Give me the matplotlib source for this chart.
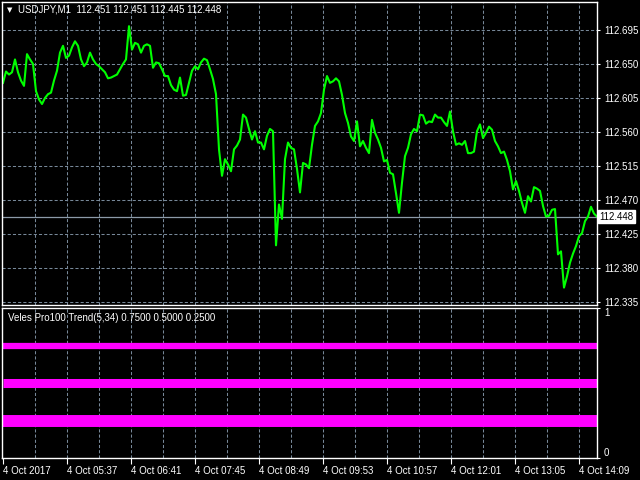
import numpy as np
import matplotlib.pyplot as plt

plt.rcParams['font.family'] = ['Liberation Sans', 'DejaVu Sans']

# USDJPY M1 closes, read every 3 bars from the picture
prices = [
    112.625, 112.640, 112.636, 112.639, 112.656, 112.639, 112.628, 112.621, 112.663, 112.656,
    112.650, 112.614, 112.603, 112.597, 112.605, 112.610, 112.612, 112.628, 112.641, 112.665,
    112.674, 112.658, 112.661, 112.672, 112.680, 112.674, 112.656, 112.647, 112.652, 112.665,
    112.656, 112.650, 112.647, 112.643, 112.639, 112.631, 112.632, 112.634, 112.636, 112.643,
    112.650, 112.656, 112.700, 112.669, 112.678, 112.676, 112.665, 112.674, 112.676, 112.674,
    112.645, 112.652, 112.651, 112.643, 112.634, 112.634, 112.622, 112.616, 112.614, 112.632,
    112.608, 112.609, 112.625, 112.641, 112.647, 112.643, 112.652, 112.657, 112.655, 112.643,
    112.630, 112.610, 112.537, 112.502, 112.524, 112.517, 112.508, 112.537, 112.542, 112.550,
    112.583, 112.579, 112.564, 112.550, 112.561, 112.546, 112.546, 112.537, 112.555, 112.564,
    112.561, 112.410, 112.464, 112.445, 112.524, 112.546, 112.539, 112.537, 112.511, 112.480,
    112.519, 112.517, 112.512, 112.543, 112.568, 112.574, 112.585, 112.616, 112.634, 112.625,
    112.627, 112.631, 112.627, 112.609, 112.585, 112.572, 112.554, 112.548, 112.574, 112.541,
    112.548, 112.539, 112.532, 112.576, 112.559, 112.550, 112.539, 112.521, 112.523, 112.506,
    112.504, 112.479, 112.453, 112.493, 112.528, 112.539, 112.557, 112.564, 112.561, 112.583,
    112.582, 112.571, 112.574, 112.573, 112.583, 112.579, 112.579, 112.573, 112.568, 112.587,
    112.561, 112.543, 112.545, 112.543, 112.548, 112.532, 112.532, 112.534, 112.561, 112.570,
    112.552, 112.559, 112.567, 112.563, 112.548, 112.541, 112.532, 112.534, 112.523, 112.508,
    112.484, 112.495, 112.482, 112.466, 112.453, 112.475, 112.468, 112.487, 112.485, 112.482,
    112.462, 112.448, 112.449, 112.457, 112.458, 112.398, 112.402, 112.354, 112.369, 112.387,
    112.399, 112.409, 112.422, 112.426, 112.442, 112.448, 112.461, 112.452, 112.448,
]
minutes = np.arange(len(prices)) * 3  # bar index (minutes since first bar)

price_ticks = [112.335, 112.380, 112.425, 112.470, 112.515, 112.560, 112.605, 112.650, 112.695]
time_labels = ["4 Oct 2017", "4 Oct 05:37", "4 Oct 06:41", "4 Oct 07:45", "4 Oct 08:49",
               "4 Oct 09:53", "4 Oct 10:57", "4 Oct 12:01", "4 Oct 13:05", "4 Oct 14:09"]
time_ticks = np.arange(len(time_labels)) * 64
grid_x = np.arange(32, 595, 32)
header = "USDJPY,M1  112.451 112.451 112.445 112.448"
last_price = 112.448
indicator_name = "Veles Pro100 Trend(5,34) 0.7500 0.5000 0.2500"
trend_levels = [0.75, 0.5, 0.25]

grid_col = '#778899'
grid_ls = (0, (3, 2))
fig = plt.figure(figsize=(6.4, 4.8), dpi=100, facecolor='black')
ax = fig.add_axes([2/640, 1 - 305/480, 595/640, 303/480], facecolor='black')
ax2 = fig.add_axes([2/640, 1 - 458/480, 595/640, 150/480], facecolor='black')

for a in (ax, ax2):
    for s in a.spines.values():
        s.set_color('white')
        s.set_linewidth(1)
    a.set_xlim(-1, 594)
    for gx in grid_x:
        a.axvline(gx, color=grid_col, lw=0.75, ls=grid_ls, zorder=0)

# main pane
for py in price_ticks:
    ax.axhline(py, color=grid_col, lw=0.75, ls=grid_ls, zorder=0)
ax.axhline(last_price, color='#8c9aa8', lw=0.9, zorder=1)
ax.plot(minutes, prices, color='#00ff00', lw=1.5, zorder=2)
ax.set_ylim(112.331, 112.732)
ax.set_xticks([])
ax.yaxis.tick_right()
ax.set_yticks(price_ticks)
ax.set_yticklabels([f"{p:.3f}" for p in price_ticks])
ax.tick_params(axis='y', colors='white', labelcolor='white', labelsize=7, length=2, pad=3)
ax.text(1.004, last_price, f"{last_price:.3f}", transform=ax.get_yaxis_transform(),
        ha='left', va='center', color='black', fontsize=7,
        bbox=dict(boxstyle='square,pad=0.15', fc='white', ec='white'))
ax.text(5/595, 1 - 8/303, "▼", transform=ax.transAxes, color='white', fontsize=5,
        va='center', ha='left', family='DejaVu Sans')
ax.text(16/595, 1 - 8/303, header, transform=ax.transAxes, color='white', fontsize=7,
        va='center', ha='left')

# indicator pane
widths = [4.5, 6.5, 8.6]
for lvl, w in zip(trend_levels, widths):
    ax2.plot(minutes, np.full(len(minutes), lvl), color='#ff00ff', lw=w, solid_capstyle='butt')
ax2.set_ylim(0, 1)
ax2.yaxis.tick_right()
ax2.set_yticks([0, 1])
ax2.set_yticklabels(["0", "1"])
ax2.tick_params(axis='y', colors='white', labelsize=7, length=2, pad=3)
ylabs = ax2.get_yticklabels()
ylabs[0].set_va('bottom')
ylabs[1].set_va('top')
ax2.set_xticks(time_ticks)
ax2.set_xticklabels(time_labels)
ax2.tick_params(axis='x', colors='white', labelsize=7, length=4, pad=2)
for lab in ax2.get_xticklabels():
    lab.set_ha('left')
ax2.text(6/595, 1 - 10/150, indicator_name, transform=ax2.transAxes, color='white',
         fontsize=7, va='center', ha='left')

fig.savefig('out.png', dpi=100, facecolor='black')
